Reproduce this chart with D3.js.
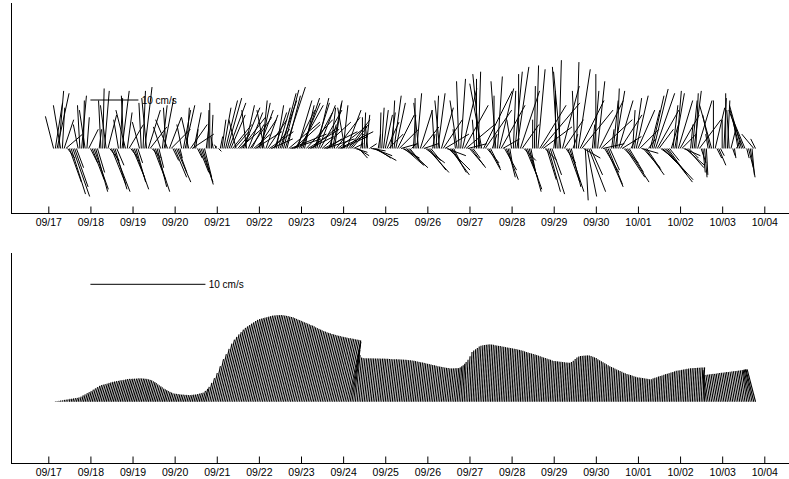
<!DOCTYPE html>
<html><head><meta charset="utf-8">
<script src="https://cdn.jsdelivr.net/npm/d3@7"></script>
<style>
body{margin:0;background:#fff}
text{font-family:Arial,"Liberation Sans",Helvetica,sans-serif}
</style>
</head><body>
<svg id="chart" width="789" height="479"></svg>
<script>
// ---- data (hourly samples starting 09/17 03:00) ----
const tickLabels = ["09/17","09/18","09/19","09/20","09/21","09/22","09/23","09/24","09/25","09/26","09/27","09/28","09/29","09/30","10/01","10/02","10/03","10/04"];
const scaleBarValue = 10;
const scaleBarLabel = "10 cm/s";

// raw (tidal) current, east (u) and north (v) components, cm/s
const rawU = [
-1.7,1.5,2.5,1.0,-1.5,0.5,2.0,3.5,1.5,2.5,3.0,3.5,2.8,1.5,-1.0,-0.5,1.0,0.2,-1.2,0.5,2.0,
1.5,2.5,3.0,2.5,1.5,0.5,-0.5,0.3,1.0,-1.2,1.8,2.0,3.0,3.5,2.5,1.5,-1.0,0.5,1.5,-0.5,-2.0,1.0,3.0,1.5,
2.5,3.0,2.0,1.0,-1.5,-0.5,0.5,1.5,-1.0,2.5,3.5,2.0,2.5,3.0,2.0,1.0,-1.5,1.0,2.0,-0.5,-2.5,2.5,4.0,1.2,
2.5,3.0,1.8,0.5,-1.0,1.5,2.0,0.5,-1.5,3.5,4.5,1.5,0.5,1.0,2.0,2.5,2.2,1.5,0.5,0.2,0.0,0.3,-0.5,0.3,
-0.5,0.6,0.5,0.8,1.5,2.5,3.0,3.5,3.0,4.0,3.0,-1.5,2.5,4.5,5.0,3.5,2.0,-1.0,3.0,4.5,2.5,3.5,5.5,4.0,
3.0,2.0,1.0,-1.5,2.5,4.0,5.0,4.5,3.5,2.5,1.5,2.5,3.5,3.0,3.2,4.2,2.8,6.5,7.5,6.0,5.5,4.0,3.0,5.0,
4.0,3.5,2.0,5.5,6.5,5.0,5.5,4.0,3.0,2.5,3.5,4.5,6.0,7.0,6.0,3.0,1.5,1.0,2.0,1.5,5.0,6.5,7.0,5.5,
1.0,-1.5,3.0,4.5,3.5,2.5,2.0,2.5,2.5,1.8,0.5,0.0,0.3,0.8,-0.5,1.5,3.0,4.0,4.5,3.0,0.5,0.2,0.5,1.0,
1.5,2.5,3.0,1.0,0.5,1.5,2.0,3.5,4.0,3.5,3.5,4.0,4.5,3.5,2.0,1.0,0.5,0.0,1.0,-1.0,2.5,3.5,3.0,4.0,
4.5,3.5,2.0,0.5,-0.5,0.5,1.5,-1.0,2.5,4.0,5.0,4.0,4.5,4.0,3.0,1.5,-0.5,-1.5,-0.5,1.0,3.0,5.0,6.0,4.0,
3.0,3.0,1.5,-0.5,0.0,0.5,-1.5,-2.5,6.0,5.5,2.5,2.5,2.0,1.0,0.0,-1.0,1.0,3.0,5.0,3.5,2.5,2.5,1.5,0.5,
-1.0,0.5,1.5,2.5,0.0,4.0,3.5,2.5,2.5,3.0,2.5,1.0,0.0,0.2,0.5,1.5,5.5,8.0,6.0,2.5,2.0,2.5,3.0,2.0,
0.5,0.0,-1.0,0.5,-1.5,3.5,4.0,2.0,2.5,3.0,2.0,1.0,-0.5,0.5,2.5,5.0,6.5,3.5,0.6,2.0,3.5,2.5,0.5,1.0,
0.0,1.5,5.0,6.5,4.5,3.0,3.5,3.0,2.0,0.5,1.0,2.0,0.5,3.0,4.5,4.0,3.0,4.0,4.5,3.0,1.0,0.5,1.5,2.5,
3.5,4.0,3.5,3.5,4.0,3.0,1.5,2.0,2.5,3.0,4.0,4.5,3.0,2.0,4.5,6.0,5.5,4.0,2.0,1.5,1.0,2.0,1.0,3.0,
4.0,3.0,3.5,4.0,3.5,2.0,0.5,1.0,1.5,0.5,3.0,4.5,1.0,0.5,0.5,0.3,-0.5,-1.5,-2.5,0.0,2.0,1.0,1.5,0.8,
0.0,0.5,0.0,0.5,-0.5,1.0,0.5,0.3,1.0,-1.0,-2.0,-2.5,-3.0,-2.5,0.5,1.0,1.0,0.5,-2.5,-1.0
];
const rawV = [
6.7,9.5,11.5,12.0,9.0,8.5,6.0,3.0,-2.0,-7.0,-9.5,-10.0,-8.0,-4.0,5.0,9.0,11.0,10.0,8.0,6.5,4.0,
-3.0,-6.5,-8.5,-9.0,-5.0,4.0,10.0,12.5,12.0,9.0,7.0,-2.5,-7.5,-9.0,-8.5,-3.5,6.0,10.5,12.0,11.0,8.0,7.5,5.0,-2.0,
-6.0,-8.5,-7.0,-3.0,5.5,9.5,12.0,12.8,10.5,8.0,4.5,-2.0,-6.5,-9.0,-8.0,-4.0,4.5,9.0,10.5,8.5,6.0,6.5,4.0,-2.5,
-6.0,-7.0,-5.0,-2.0,5.0,8.0,9.0,8.5,6.5,5.0,3.0,7.5,4.0,-2.0,-5.0,-7.0,-7.5,-6.0,4.0,8.0,9.5,7.0,2.5,0.5,
0.8,-0.6,2.5,6.0,8.5,10.0,10.5,9.5,7.0,5.0,3.5,6.0,3.0,4.0,6.5,8.5,9.0,8.0,7.5,6.5,5.0,3.0,3.5,6.0,
8.0,9.5,10.0,8.0,7.0,6.0,3.5,2.0,4.0,7.5,9.0,8.5,10.0,11.5,12.2,12.8,11.0,5.5,3.0,2.0,5.0,8.0,10.0,9.0,
9.5,10.5,9.0,6.0,4.0,2.5,4.5,7.5,9.5,10.5,9.0,8.0,5.5,3.5,2.0,2.0,5.0,8.5,10.0,9.5,6.5,5.0,3.5,2.5,
9.0,8.5,8.0,6.0,4.5,3.0,1.0,-0.8,-1.5,-2.0,2.5,6.5,7.5,7.0,5.0,1.0,-0.5,-1.5,-2.5,-2.0,3.0,7.5,8.5,8.0,
7.0,5.5,3.0,7.5,10.0,11.0,9.5,7.0,4.0,1.0,-2.0,-3.5,-4.0,-3.5,-2.5,1.0,7.0,10.5,11.5,9.5,8.0,4.5,1.0,-3.0,
-5.0,-4.5,-2.5,3.0,8.0,11.0,11.5,10.0,8.5,6.0,3.0,-1.5,-4.5,-5.5,-5.0,-3.0,4.0,10.0,14.0,14.5,12.5,9.0,5.0,1.0,
-3.5,-4.0,-2.0,6.0,14.5,16.0,15.5,13.5,12.0,8.0,-3.0,-4.5,-4.0,3.0,11.0,14.0,15.0,12.5,9.0,2.0,-4.5,-6.5,-6.0,-3.0,
6.0,12.0,16.0,17.0,15.5,12.0,5.0,-2.5,-6.0,-8.5,-9.0,-5.0,6.0,13.0,17.3,16.5,9.0,9.5,4.5,-2.5,-6.5,-9.0,-9.5,-5.5,
4.0,12.0,17.0,18.4,16.0,13.0,6.0,-3.0,-7.0,-9.0,-8.0,3.0,12.0,18.0,16.5,10.0,8.0,-2.0,-10.8,-10.0,-9.0,-5.5,5.0,12.0,
15.5,14.0,10.0,6.0,1.0,-5.0,-8.0,-7.5,-4.5,4.0,10.0,12.0,12.5,10.0,7.0,2.5,-3.0,-6.0,-7.0,-5.0,2.0,8.0,10.5,11.0,
8.0,4.0,-1.0,-4.0,-5.5,-4.5,2.0,8.0,11.0,12.4,11.5,8.0,4.0,-1.5,-4.5,-6.5,-7.0,-5.5,-2.5,5.0,9.0,11.5,12.0,10.0,
7.0,3.0,-1.5,-3.5,-4.0,-2.0,5.0,10.0,12.0,11.5,10.0,6.0,-3.0,-5.0,-6.0,-5.5,3.0,7.0,9.0,10.0,8.5,-2.0,-3.5,-1.5,
6.0,10.5,11.5,10.0,8.0,4.0,-1.5,-2.0,1.5,6.0,8.0,9.0,8.0,6.0,-2.0,-4.0,-6.0,-5.5,3.0,2.0
];

// low-pass filtered current, cm/s
const lowU = [
0.00,0.01,0.01,0.02,0.03,0.03,0.04,0.05,0.05,0.06,0.07,0.07,0.08,0.09,0.09,0.11,0.14,0.16,0.19,0.21,0.23,
0.26,0.29,0.32,0.35,0.36,0.37,0.38,0.40,0.41,0.42,0.43,0.44,0.45,0.46,0.46,0.47,0.48,0.49,0.49,0.50,0.50,0.50,0.50,0.51,
0.51,0.51,0.51,0.51,0.50,0.50,0.49,0.48,0.46,0.45,0.43,0.40,0.38,0.36,0.34,0.31,0.29,0.27,0.25,0.23,0.22,0.20,0.18,0.18,
0.17,0.17,0.16,0.16,0.15,0.15,0.15,0.15,0.15,0.15,0.15,0.16,0.17,0.18,0.19,0.20,0.24,0.28,0.26,0.33,0.41,0.50,0.62,0.74,
0.83,0.92,1.01,1.08,1.13,1.17,1.21,1.25,1.28,1.31,1.33,1.36,1.38,1.40,1.42,1.44,1.45,1.46,1.46,1.47,1.48,1.49,1.50,1.50,
1.50,1.51,1.51,1.51,1.50,1.50,1.49,1.49,1.48,1.47,1.47,1.45,1.44,1.43,1.42,1.41,1.39,1.38,1.37,1.36,1.35,1.33,1.32,1.31,
1.29,1.28,1.27,1.26,1.24,1.23,1.22,1.21,1.20,1.19,1.18,1.17,1.16,1.16,1.15,1.14,1.13,1.13,1.12,1.11,1.11,1.10,1.10,1.09,
1.09,1.08,1.08,1.07,0.94,0.74,0.54,0.41,0.39,0.38,0.38,0.38,0.38,0.38,0.38,0.38,0.38,0.38,0.38,0.38,0.38,0.38,0.37,0.37,
0.37,0.37,0.37,0.37,0.37,0.37,0.37,0.37,0.37,0.37,0.36,0.36,0.36,0.36,0.36,0.35,0.35,0.35,0.34,0.34,0.34,0.33,0.33,0.33,
0.32,0.32,0.32,0.31,0.31,0.31,0.30,0.30,0.30,0.30,0.29,0.29,0.29,0.29,0.29,0.29,0.29,0.27,0.25,0.22,0.20,0.17,0.18,0.20,
0.22,0.22,0.23,0.23,0.24,0.24,0.25,0.25,0.25,0.25,0.25,0.25,0.25,0.25,0.24,0.24,0.24,0.24,0.24,0.24,0.24,0.23,0.23,0.23,
0.23,0.23,0.23,0.23,0.22,0.22,0.22,0.22,0.21,0.21,0.21,0.21,0.21,0.20,0.20,0.20,0.20,0.19,0.19,0.19,0.19,0.18,0.18,0.18,
0.18,0.18,0.17,0.17,0.17,0.17,0.17,0.17,0.17,0.17,0.18,0.19,0.19,0.20,0.20,0.20,0.20,0.20,0.20,0.20,0.20,0.20,0.19,0.19,
0.18,0.18,0.18,0.17,0.17,0.16,0.16,0.15,0.15,0.15,0.14,0.14,0.14,0.13,0.13,0.13,0.12,0.12,0.12,0.12,0.11,0.11,0.11,0.11,
0.11,0.10,0.10,0.10,0.10,0.10,0.10,0.10,0.10,0.10,0.11,0.11,0.11,0.11,0.12,0.12,0.12,0.12,0.13,0.13,0.13,0.13,0.14,0.14,
0.14,0.14,0.14,0.14,0.14,0.15,0.15,0.15,0.15,0.15,0.15,0.15,0.15,0.15,-0.14,-0.29,-0.35,-0.35,-0.35,-0.36,-0.36,-0.36,-0.36,-0.37,
-0.37,-0.38,-0.38,-0.38,-0.38,-0.39,-0.39,-0.39,-0.39,-0.40,-0.40,-0.40,-0.41,-0.41,-0.41,-0.47,-0.53,-0.59,-0.68,-0.73
];
const lowV = [
0.00,0.03,0.05,0.08,0.11,0.13,0.16,0.18,0.21,0.24,0.26,0.29,0.31,0.34,0.37,0.45,0.55,0.65,0.74,0.84,0.93,
1.05,1.16,1.27,1.38,1.45,1.48,1.53,1.58,1.63,1.68,1.73,1.76,1.79,1.82,1.85,1.88,1.91,1.94,1.97,1.98,1.99,2.00,2.01,2.02,
2.03,2.03,2.03,2.02,2.00,1.98,1.95,1.91,1.85,1.78,1.70,1.61,1.52,1.43,1.34,1.25,1.14,1.07,1.00,0.93,0.86,0.79,0.73,0.70,
0.68,0.66,0.64,0.62,0.61,0.60,0.59,0.58,0.58,0.59,0.61,0.63,0.66,0.70,0.74,0.79,0.95,1.12,1.30,1.65,2.05,2.50,3.10,3.70,
4.15,4.60,5.05,5.40,5.65,5.85,6.05,6.27,6.42,6.55,6.67,6.79,6.90,7.02,7.12,7.18,7.23,7.28,7.32,7.36,7.40,7.45,7.48,7.50,
7.52,7.53,7.54,7.54,7.52,7.50,7.47,7.44,7.40,7.37,7.33,7.27,7.21,7.15,7.09,7.03,6.97,6.91,6.85,6.80,6.73,6.67,6.61,6.55,
6.47,6.41,6.34,6.28,6.21,6.15,6.10,6.04,5.99,5.94,5.89,5.85,5.81,5.78,5.74,5.71,5.67,5.64,5.60,5.57,5.54,5.52,5.49,5.46,
5.43,5.41,5.38,5.34,5.22,4.95,4.50,4.05,3.85,3.79,3.78,3.78,3.77,3.77,3.77,3.77,3.76,3.76,3.76,3.75,3.75,3.75,3.74,3.74,
3.72,3.71,3.70,3.70,3.69,3.68,3.68,3.67,3.66,3.65,3.64,3.62,3.61,3.59,3.56,3.53,3.50,3.47,3.44,3.41,3.38,3.34,3.31,3.27,
3.24,3.20,3.17,3.13,3.09,3.06,3.03,3.01,2.98,2.95,2.93,2.90,2.90,2.90,2.91,2.92,2.94,2.99,3.08,3.18,3.30,3.45,3.65,3.95,
4.32,4.45,4.57,4.68,4.80,4.87,4.91,4.94,4.96,4.98,4.99,4.98,4.95,4.92,4.89,4.86,4.84,4.81,4.78,4.75,4.72,4.69,4.67,4.64,
4.61,4.58,4.55,4.51,4.47,4.43,4.38,4.33,4.29,4.24,4.20,4.15,4.10,4.06,4.01,3.96,3.90,3.85,3.80,3.75,3.70,3.65,3.59,3.55,
3.53,3.51,3.49,3.47,3.45,3.43,3.42,3.40,3.39,3.45,3.57,3.72,3.85,3.93,3.97,3.99,4.01,4.02,4.03,4.02,3.98,3.92,3.86,3.80,
3.69,3.61,3.52,3.43,3.35,3.26,3.17,3.09,3.02,2.95,2.88,2.81,2.74,2.67,2.60,2.52,2.47,2.42,2.37,2.32,2.27,2.22,2.17,2.12,
2.10,2.08,2.06,2.03,2.01,1.99,1.96,1.96,2.03,2.08,2.13,2.19,2.24,2.29,2.35,2.40,2.44,2.49,2.54,2.59,2.64,2.69,2.72,2.74,
2.77,2.80,2.83,2.86,2.89,2.91,2.92,2.93,2.94,2.95,2.96,2.97,2.98,2.99,2.75,2.42,2.32,2.34,2.36,2.38,2.40,2.42,2.43,2.45,
2.48,2.50,2.52,2.53,2.55,2.57,2.59,2.61,2.63,2.65,2.67,2.69,2.71,2.73,2.75,2.77,2.80,2.82,2.82,2.82
];

// ---- drawing ----
const svg = d3.select("#chart");
const W = 789;
const t0 = Date.UTC(2008, 8, 17, 3);
const times = rawU.map((_, i) => new Date(t0 + i * 3600e3));
const dayTicks = d3.utcDay.range(new Date(Date.UTC(2008, 8, 17)), new Date(Date.UTC(2008, 9, 4, 1)));

const x = d3.scaleUtc()
  .domain([new Date(Date.UTC(2008, 8, 17)), new Date(Date.UTC(2008, 9, 4))])
  .range([48.3, 764.3]);

const panels = [
  {u: rawU, v: rawV, top: 3, bottom: 213.3, domain: [-13.5, 30.31], barY: 100, sw: 1.0},
  {u: lowU, v: lowV, top: 252.7, bottom: 462.7, domain: [-5.30, 12.96], barY: 284.3, sw: 1.1}
];

const leftX = 11.5;

panels.forEach(p => {
  const y = d3.scaleLinear().domain(p.domain).range([p.bottom, p.top]);
  const k = y(0) - y(1); // px per cm/s (equal aspect)
  const g = svg.append("g");

  g.append("g").selectAll("line").data(times).join("line")
    .attr("x1", d => x(d))
    .attr("y1", y(0))
    .attr("x2", (d, i) => x(d) + p.u[i] * k)
    .attr("y2", (d, i) => y(p.v[i]))
    .attr("stroke", "#000")
    .attr("stroke-width", p.sw);

  // scale bar
  const xb = x(new Date(Date.UTC(2008, 8, 18)));
  g.append("line")
    .attr("x1", xb).attr("x2", xb + scaleBarValue * k)
    .attr("y1", p.barY).attr("y2", p.barY)
    .attr("stroke", "#000").attr("stroke-width", 1);
  g.append("text")
    .attr("x", xb + scaleBarValue * k + 3.3)
    .attr("y", p.barY).attr("dy", "0.35em")
    .attr("font-size", 10).attr("fill", "#000")
    .text(scaleBarLabel);

  // left spine
  g.append("line")
    .attr("x1", leftX).attr("x2", leftX)
    .attr("y1", p.top).attr("y2", p.bottom)
    .attr("stroke", "#000").attr("stroke-width", 1)
    .attr("shape-rendering", "crispEdges");

  // bottom axis
  const axisY = Math.round(p.bottom) + 0.5;
  g.append("line")
    .attr("x1", leftX - 0.5).attr("x2", W)
    .attr("y1", axisY).attr("y2", axisY)
    .attr("stroke", "#000").attr("stroke-width", 1)
    .attr("shape-rendering", "crispEdges");
  const ax = g.append("g")
    .attr("transform", `translate(0,${axisY})`)
    .call(d3.axisBottom(x)
      .tickValues(dayTicks)
      .tickFormat((d, i) => tickLabels[i])
      .tickSizeInner(-7)
      .tickSizeOuter(0)
      .tickPadding(5));
  ax.select(".domain").remove();
  ax.selectAll(".tick line").attr("stroke", "#000");
  ax.selectAll(".tick text")
    .attr("font-size", 10.5)
    .attr("font-family", "Arial, 'Liberation Sans', Helvetica, sans-serif")
    .attr("fill", "#000");
});
</script>
</body></html>
